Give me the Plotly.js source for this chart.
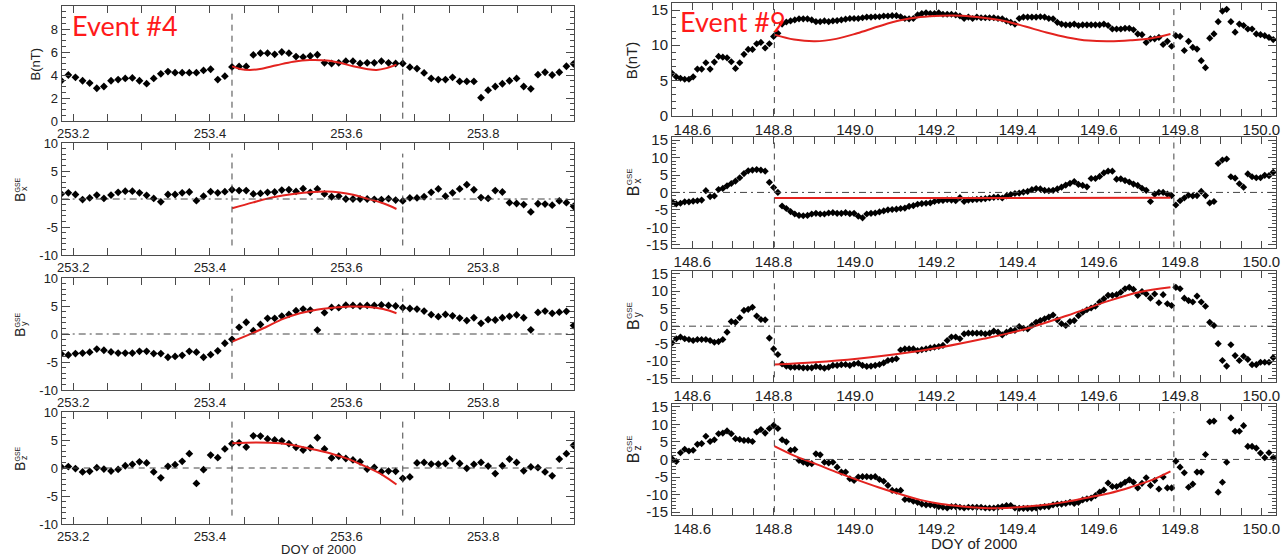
<!DOCTYPE html>
<html><head><meta charset="utf-8">
<script src="https://cdn.plot.ly/plotly-3.0.1.min.js"></script>
<style>html,body{margin:0;padding:0;background:#fff;}#chart{width:1286px;height:557px;}</style>
</head><body><div id="chart"></div>
<script>
// ---------------- DATA ----------------
// Event #4 (DOY 253 of 2000), 15-min samples
const leftStart = 253.1823;
const cadence = 1 / 96;
const leftB = [3.5, 4.0, 3.8, 3.5, 3.3, 2.85, 3.0, 3.5, 3.6, 3.7, 3.75, 3.5, 3.25, 3.7, 4.1, 4.3, 4.2, 4.2, 4.2, 4.2, 4.4, 4.5, 3.6, 3.9, 4.7, 4.75, 4.75, 5.75, 5.9, 5.9, 5.8, 6.0, 5.9, 5.6,
  5.56, 5.65, 5.76, 5.06, 5.0, 5.06, 5.2, 5.2, 5.0, 5.06, 5.06, 5.2, 5.06, 5.0, 5.0, 4.68, 4.56, 4.18, 3.7, 3.6, 3.6, 3.8, 3.44, 3.44, 3.44, 2.03, 2.68, 3.0, 3.24, 3.5, 3.7, 3.0, 2.8, 4.03, 4.24, 4.0, 4.24, 4.76, 4.97];
const leftBx = [0.9, 1.1, 0.8, -0.1, 0.2, 0.7, 0.1, 0.7, 1.2, 1.4, 1.4, 1.1, 0.65, 0.1, -0.5, 0.8, 0.8, 1.1, 1.25, -0.3, 0.5, 1.3, 1.1, 1.3, 1.65, 1.5, 1.5, 0.9, 1.0, 1.2, 1.25, 1.6, 1.65, 1.35,
  1.85, 1.2, 1.8, 0.9, 0.4, 0.5, 0.0, 0.0, 0.0, 0.0, -0.05, -0.1, 0.05, -0.2, -0.35, 0.2, 0.2, 0.4, 1.2, 1.8, 0.5, 1.1, 1.8, 2.55, 1.65, 0.25, 0.1, 1.5, 1.25, -0.65, -0.8, -1.0, -2.3, -0.85, -0.9, -1.1, -0.35, -0.65, -1.3];
const leftBy = [-3.55, -3.75, -3.5, -3.4, -3.25, -2.7, -2.9, -3.2, -3.4, -3.4, -3.4, -3.1, -3.1, -3.5, -3.5, -4.15, -4.0, -3.8, -3.1, -3.25, -4.15, -3.7, -3.0, -1.65, -0.95, 1.2, 2.1, 0.6, 1.7, 2.8, 2.8, 3.2, 3.5, 4.15,
  4.45, 4.27, 0.7, 3.8, 4.75, 4.7, 5.15, 5.1, 5.0, 5.1, 5.1, 5.2, 5.1, 5.0, 4.7, 4.55, 4.45, 4.1, 3.45, 3.1, 3.5, 3.25, 2.85, 2.4, 2.9, 1.9, 2.55, 2.5, 2.9, 3.15, 3.4, 2.9, 0.75, 3.85, 4.1, 3.7, 3.9, 4.05, 1.5];
const leftBz = [0.2, 0.25, -0.1, -0.7, -0.6, 0.05, -0.2, -0.55, -0.25, 0.4, 0.65, 1.1, 0.9, -0.7, -1.75, 0.3, 0.6, 1.2, 2.55, -2.75, -0.3, 2.3, 1.85, 3.4, 4.35, 4.5, 3.75, 5.75, 5.7, 5.2, 5.0, 4.85, 4.35, 3.7,
  3.2, 3.6, 5.4, 3.4, 1.8, 2.1, 1.7, 1.45, 1.1, -0.2, 0.1, -0.65, -0.55, -0.6, -1.85, -1.6, 0.9, 1.0, 0.7, 0.7, 0.8, 1.7, 0.8, -0.05, 0.65, 1.0, 0.35, -1.0, 0.4, 1.6, 1.0, -0.5, 0.2, 0.05, -0.7, -1.4, 1.6, 2.55, 4.05];

// Event #4 flux-rope fit curves
const fitLeftBT = [253.4326, 253.4439, 253.4585, 253.4732, 253.4976, 253.5219, 253.5463, 253.5707, 253.5902, 253.6097, 253.6292, 253.6439, 253.6585, 253.6731];
const fitLeftB = [4.75, 4.53, 4.44, 4.53, 4.85, 5.15, 5.3, 5.26, 5.06, 4.76, 4.53, 4.44, 4.6, 4.9];
const fitLeftBxT = [253.4326, 253.4634, 253.4926, 253.5219, 253.5512, 253.5707, 253.5902, 253.6097, 253.6292, 253.6536, 253.6731];
const fitLeftBx = [-1.66, -0.6, 0.3, 0.9, 1.25, 1.32, 1.15, 0.75, 0.1, -0.77, -1.78];
const fitLeftByT = [253.4326, 253.4634, 253.4830, 253.5073, 253.5317, 253.5561, 253.5804, 253.6048, 253.6292, 253.6536, 253.6731];
const fitLeftBy = [-1.35, 0.2, 1.3, 2.7, 3.7, 4.35, 4.7, 4.9, 4.85, 4.45, 3.7];
const fitLeftBzT = [253.4326, 253.4683, 253.5024, 253.5317, 253.5561, 253.5804, 253.6048, 253.6292, 253.6536, 253.6731];
const fitLeftBz = [4.4, 4.55, 4.4, 3.85, 3.2, 2.45, 1.5, 0.2, -1.3, -2.95];
const leftBoundaries = [253.4323, 253.6823];

// Event #9 (DOY 148-150 of 2000), 15-min samples
const rightStart = 148.55;
const rightB = [6.0, 5.5, 5.3, 5.15, 5.15, 5.5, 6.6, 6.6, 7.5, 6.6,
  7.6, 8.4, 8.3, 8.2, 7.65, 6.7, 7.5, 8.7, 9.4, 9.4,
  10.2, 10.4, 9.6, 10.2, 11.25, 11.7, 13.0, 13.3, 13.45, 13.6,
  13.75, 13.75, 13.75, 13.6, 13.35, 13.35, 13.45, 13.35, 13.45, 13.5,
  13.6, 13.7, 13.8, 13.8, 13.8, 13.9, 14.0, 14.0, 14.05, 14.05,
  14.15, 14.15, 14.2, 14.2, 14.05, 13.8, 13.75, 13.8, 14.3, 14.5,
  14.6, 14.5, 14.5, 14.6, 14.4, 14.4, 14.4, 14.3, 14.15, 13.8,
  14.0, 13.8, 14.0, 13.9, 13.9, 13.9, 13.9, 13.8, 13.75, 13.45,
  13.25, 13.0, 13.8, 14.0, 14.0, 14.0, 14.0, 14.05, 14.0, 13.8,
  13.75, 13.25, 13.0, 12.9, 12.9, 13.0, 12.8, 12.9, 12.9, 12.9,
  12.9, 12.9, 13.0, 12.8, 12.3, 12.3, 12.3, 12.4, 12.4, 12.2,
  11.6, 11.5, 10.4, 10.9, 10.9, 11.1, 10.1, 10.55, 9.85, 11.35,
  11.25, 9.25, 10.55, 9.7, 9.45, 7.8, 6.8, 11.0, 11.6, 13.35,
  14.85, 15.1, 13.35, 11.85, 13.0, 12.8, 12.3, 12.3, 11.6, 11.5, 11.35, 11.1, 10.8];
const rightBx = [-2.7, -3.3, -3.1, -2.7, -2.7, -2.5, -2.4, -2.2, 0.5, -1.2,
  -1.0, 0.85, 1.15, 1.9, 2.55, 3.25, 4.2, 5.4, 6.2, 6.4,
  6.55, 6.4, 6.1, 2.9, 1.4, 0.0, -3.9, -4.6, -5.5, -6.2,
  -6.6, -6.7, -6.6, -6.2, -6.0, -6.2, -6.2, -5.9, -5.8, -6.0,
  -6.0, -5.8, -6.1, -6.0, -6.8, -7.3, -6.2, -6.0, -5.9, -5.6,
  -5.3, -5.0, -4.9, -4.8, -4.6, -4.5, -4.0, -3.8, -3.4, -3.2,
  -3.1, -3.0, -2.6, -2.4, -2.3, -2.1, -2.2, -2.4, -1.5, -2.6,
  -2.2, -2.1, -2.0, -1.9, -1.8, -1.6, -1.4, -1.3, -1.6, -1.0,
  -0.6, -0.3, -0.2, 0.1, 0.3, 0.8, 1.1, 1.0, 0.6, 0.5,
  0.6, 1.0, 1.5, 2.1, 2.6, 3.1, 2.3, 2.0, 1.6, 4.0,
  4.0, 4.6, 5.6, 6.1, 6.1, 3.8, 3.9, 3.4, 3.0, 2.4,
  2.0, 1.2, 0.6, -2.6, -0.5, 0.0, 0.0, -0.5, -0.9, -3.6,
  -2.4, -1.6, -0.8, -1.0, -0.9, 0.3, -0.9, -3.0, -2.6, 8.3,
  9.3, 9.6, 4.5, 4.1, 2.5, 1.5, 5.3, 4.5, 4.2, 4.2, 4.9, 4.8, 5.8];
const rightBy = [-4.8, -3.6, -3.1, -3.6, -3.8, -4.1, -3.8, -3.8, -3.8, -4.1,
  -4.6, -4.4, -3.8, -1.7, 1.3, 1.1, 2.4, 4.5, 4.8, 5.4,
  2.9, 1.9, 1.8, -3.4, -6.5, -8.1, -10.8, -11.4, -11.7, -11.7,
  -11.7, -11.9, -11.9, -11.9, -11.5, -11.7, -12.0, -11.7, -11.2, -11.2,
  -11.0, -10.95, -11.2, -10.8, -10.6, -11.2, -11.5, -11.4, -11.2, -10.95,
  -10.5, -9.8, -9.6, -9.3, -6.8, -6.5, -6.5, -6.5, -7.0, -6.7,
  -6.5, -6.2, -6.0, -5.8, -5.5, -4.1, -3.1, -3.1, -3.6, -2.2,
  -2.0, -2.0, -2.0, -2.0, -2.2, -2.0, -1.4, -1.7, -2.5, -1.7,
  -1.2, -1.2, -0.1, -0.6, -0.8, 0.2, 1.1, 1.6, 2.1, 2.6,
  3.2, 1.8, 0.7, 0.2, 1.3, 1.6, 3.0, 4.0, 4.7, 5.2,
  5.7, 6.9, 7.8, 8.8, 8.8, 9.0, 9.7, 10.7, 11.1, 10.5,
  8.8, 9.9, 9.2, 8.0, 9.2, 6.7, 9.0, 6.4, 5.9, 11.1,
  10.7, 8.0, 7.3, 6.9, 8.6, 6.9, 5.7, 1.1, 0.2, -5.0,
  -9.8, -11.4, -5.3, -8.4, -9.8, -8.6, -9.5, -11.0, -11.0, -10.3, -10.3, -10.3, -9.0];
const rightBz = [0.2, -0.6, 1.9, 2.9, 2.4, 2.6, 4.3, 4.5, 6.6, 5.1,
  5.6, 7.3, 7.5, 8.1, 7.3, 5.9, 5.7, 5.4, 5.4, 5.1,
  7.8, 8.5, 7.5, 8.8, 9.7, 8.8, 5.6, 5.0, 2.6, 2.8,
  -0.3, -0.8, -1.2, -1.2, 1.6, 1.3, -0.8, -1.0, -0.8, -2.2,
  -3.6, -3.6, -5.5, -6.0, -5.0, -4.9, -4.9, -5.0, -4.9, -5.7,
  -6.2, -7.4, -8.8, -9.0, -8.8, -11.4, -11.4, -11.9, -12.2, -12.7,
  -12.9, -12.9, -13.1, -13.4, -13.6, -13.8, -13.4, -13.4, -13.6, -13.8,
  -13.6, -13.6, -13.6, -13.6, -13.8, -13.8, -13.8, -13.6, -13.4, -13.1,
  -13.1, -13.8, -13.9, -13.9, -13.9, -13.9, -13.8, -13.6, -13.4, -13.4,
  -12.9, -12.7, -12.7, -12.5, -12.2, -12.5, -12.2, -11.5, -11.2, -11.0,
  -10.3, -9.3, -8.7, -6.7, -7.7, -7.7, -7.2, -6.5, -5.8, -6.5,
  -8.1, -6.8, -5.2, -7.4, -6.0, -8.4, -5.0, -8.1, -8.1, -0.5,
  -2.2, -3.8, -7.9, -7.0, -3.6, -3.6, 1.4, 10.7, 10.9, -9.3,
  -6.5, -0.8, 11.8, 8.0, 8.0, 9.6, 3.7, 3.7, 3.2, 1.8, 0.5, 1.9, 0.5];

// Event #9 fit curves
const fitRightT = [148.8018, 148.8504, 148.9021, 148.9539, 149.0056, 149.0573, 149.1091, 149.1608, 149.2125, 149.2643, 149.3160, 149.3677, 149.4195, 149.4712, 149.5229, 149.5747, 149.6264, 149.6782, 149.7299, 149.7764];
const fitRightB = [11.5, 10.8, 10.55, 10.9, 11.7, 12.65, 13.5, 14.0, 14.2, 14.2, 13.9, 13.45, 12.65, 11.8, 11.1, 10.65, 10.55, 10.7, 11.0, 11.6];
const fitRightBxT = [148.8018, 149.29, 149.7764];
const fitRightBx = [-1.6, -1.6, -1.55];
const fitRightByT = [148.8018, 148.9021, 149.0056, 149.1091, 149.2125, 149.3160, 149.4195, 149.5229, 149.6264, 149.6989, 149.7764];
const fitRightBy = [-10.95, -10.3, -9.3, -7.9, -6.0, -3.6, -0.8, 3.05, 7.3, 9.7, 11.1];
const fitRightBz = [3.8, 1.1, -1.2, -3.6, -5.8, -7.9, -9.8, -11.5, -12.7, -13.4, -13.8, -13.8, -13.4, -12.9, -12.0, -10.8, -9.6, -7.9, -5.9, -3.4];
const rightBoundaries = [148.8018, 149.7847];

const leftTicks = [253.2, 253.4, 253.6, 253.8];
const rightTicks = [148.6, 148.8, 149.0, 149.2, 149.4, 149.6, 149.8, 150.0];

// time grids from the 15-minute sampling cadence
const leftDOY = leftB.map((_, i) => leftStart + i * cadence);
const rightDOY = rightB.map((_, i) => rightStart + i * cadence);

// ---------------- LAYOUT ----------------
const W = 1286, H = 557;
const fx = v => v / W;
const fy = v => 1 - v / H;
const FONT = 'Liberation Sans, Arial, Helvetica, sans-serif';
const AX = '#4a4a4a';
const RED = '#e3231f';

const panels = [
  {side:'L', t:leftDOY, v:leftB, ft:fitLeftBT, fv:fitLeftB, top:6, bot:121, yr:[0,10], tv:[0,2,4,6,8,10], tt:['0','2','4','6','8',''], ym:0.5, zero:null, vl:[0.2,9.6], lab:'B(nT)'},
  {side:'L', t:leftDOY, v:leftBx, ft:fitLeftBxT, fv:fitLeftBx, top:143, bot:255, yr:[-10,10], tv:[-10,-5,0,5,10], ym:1, zero:'dashdot', vl:[-8.3,8.1], lab:'x'},
  {side:'L', t:leftDOY, v:leftBy, ft:fitLeftByT, fv:fitLeftBy, top:278, bot:390, yr:[-10,10], tv:[-10,-5,0,5,10], ym:1, zero:'dashdot', vl:[-8.0,8.1], lab:'y'},
  {side:'L', t:leftDOY, v:leftBz, ft:fitLeftBzT, fv:fitLeftBz, top:412, bot:524, yr:[-10,10], tv:[-10,-5,0,5,10], ym:1, zero:'dash', vl:[-8.5,8.3], lab:'z'},
  {side:'R', t:rightDOY, v:rightB, ft:fitRightT, fv:fitRightB, top:3, bot:115.5, yr:[0,16], tv:[0,5,10,15], ym:1, zero:null, vl:[0.2,15.8], lab:'B(nT)'},
  {side:'R', t:rightDOY, v:rightBx, ft:fitRightBxT, fv:fitRightBx, top:137, bot:247.5, yr:[-15.8,15.9], tv:[-15,-10,-5,0,5,10,15], ym:1, zero:'dashdot', vl:[-15.8,15.9], lab:'x', linear:true},
  {side:'R', t:rightDOY, v:rightBy, ft:fitRightByT, fv:fitRightBy, top:270.5, bot:381.5, yr:[-15.8,15.9], tv:[-15,-10,-5,0,5,10,15], ym:1, zero:'dashdot', vl:[-14.6,13.5], lab:'y'},
  {side:'R', t:rightDOY, v:rightBz, ft:fitRightT, fv:fitRightBz, top:403.5, bot:515, yr:[-15.8,15.9], tv:[-15,-10,-5,0,5,10,15], ym:1, zero:'dash', vl:[-15.0,13.5], lab:'z'}
];

const sideCfg = {
  L: {x0:61.7, x1:574, range:[253.183, 253.933], tick0:253.2, ticks:leftTicks, font:13, bounds:leftBoundaries, labX:20, msize:6},
  R: {x0:672, x1:1276, range:[148.55, 150.036], tick0:148.6, ticks:rightTicks, font:15, bounds:rightBoundaries, labX:633, msize:5.5}
};

const data = [];
const layout = {
  width: W, height: H,
  margin: {l:0, r:0, t:0, b:0},
  paper_bgcolor: '#fff', plot_bgcolor: '#fff',
  showlegend: false,
  shapes: [], annotations: []
};

const dashDot = '7px,4px,2px,4px';
const dashed = '6px,5px';

panels.forEach((p, k) => {
  const n = k + 1;
  const sfx = n === 1 ? '' : String(n);
  const s = sideCfg[p.side];
  const xa = 'x' + sfx, ya = 'y' + sfx;

  data.push({type:'scatter', mode:'markers', x:p.t, y:p.v, xaxis:xa, yaxis:ya,
    marker:{symbol:'diamond', size:s.msize, color:'#000', line:{width:0}}, hoverinfo:'skip'});
  data.push({type:'scatter', mode:'lines', x:p.ft, y:p.fv, xaxis:xa, yaxis:ya,
    line:{color:RED, width:2, shape: p.linear ? 'linear' : 'spline', smoothing:1}, hoverinfo:'skip'});

  layout['xaxis' + sfx] = {
    domain:[fx(s.x0), fx(s.x1)], range:s.range, anchor:ya,
    showline:true, linecolor:AX, linewidth:1, mirror:'ticks',
    ticks:'inside', ticklen:7, tickwidth:1, tickcolor:AX,
    tickmode:'array', tickvals:s.ticks, ticktext:s.ticks.map(v => v.toFixed(1)),
    minor:{tickmode:'linear', tick0:s.tick0, dtick:0.05, ticks:'inside', ticklen:7, tickcolor:AX, tickwidth:1, showgrid:false},
    showgrid:false, zeroline:false,
    tickfont:{family:FONT, size:s.font, color:'#222'}
  };
  layout['yaxis' + sfx] = {
    domain:[fy(p.bot), fy(p.top)], range:p.yr, anchor:xa,
    showline:true, linecolor:AX, linewidth:1, mirror:'ticks',
    ticks:'inside', ticklen:8, tickwidth:1, tickcolor:AX,
    tickmode:'array', tickvals:p.tv, ticktext:p.tt || p.tv.map(String),
    minor:{tickmode:'linear', tick0:0, dtick:p.ym, ticks:'inside', ticklen:4, tickcolor:AX, tickwidth:1, showgrid:false},
    showgrid:false, zeroline:false,
    tickfont:{family:FONT, size:s.font, color:'#222'}
  };

  if (p.zero) {
    layout.shapes.push({type:'line', xref:xa + ' domain', yref:ya, x0:0, x1:1, y0:0, y1:0,
      line:{color:'#444', width:1, dash: p.zero === 'dash' ? dashed : dashDot}});
  }
  s.bounds.forEach(b => {
    layout.shapes.push({type:'line', xref:xa, yref:ya, x0:b, x1:b, y0:p.vl[0], y1:p.vl[1],
      line:{color:'#444', width:1, dash:dashed}});
  });

  // y-axis titles
  const cy = (p.top + p.bot) / 2;
  const fs = s.font;
  if (p.lab === 'B(nT)') {
    const lx = p.side === 'L' ? 35 : 631;
    layout.annotations.push({xref:'paper', yref:'paper', x:fx(lx), y:fy(cy + 1), text:'B(nT)', textangle:-90,
      showarrow:false, xanchor:'center', yanchor:'middle', font:{family:FONT, size:fs, color:'#222'}});
  } else {
    const bx = s.labX, by = cy - 1;
    const sc = fs / 13;
    layout.annotations.push({xref:'paper', yref:'paper', x:fx(bx), y:fy(by), text:'B', textangle:-90,
      showarrow:false, xanchor:'center', yanchor:'middle', font:{family:FONT, size:fs + 1, color:'#222'}});
    layout.annotations.push({xref:'paper', yref:'paper', x:fx(bx - 3.5 * sc), y:fy(by - 13 * sc), text:'GSE', textangle:-90,
      showarrow:false, xanchor:'center', yanchor:'middle', font:{family:FONT, size:Math.round(7 * sc), color:'#222'}});
    layout.annotations.push({xref:'paper', yref:'paper', x:fx(bx + 4 * sc), y:fy(by - 9 * sc), text:p.lab, textangle:-90,
      showarrow:false, xanchor:'center', yanchor:'middle', font:{family:FONT, size:Math.round(9 * sc), color:'#222'}});
  }
});

// axis titles and event labels
layout.annotations.push({xref:'paper', yref:'paper', x:fx(318), y:fy(549.5), text:'DOY of 2000', showarrow:false,
  xanchor:'center', yanchor:'middle', font:{family:FONT, size:13, color:'#222'}});
layout.annotations.push({xref:'paper', yref:'paper', x:fx(974), y:fy(543), text:'DOY of 2000', showarrow:false,
  xanchor:'center', yanchor:'middle', font:{family:FONT, size:15, color:'#222'}});
layout.annotations.push({xref:'paper', yref:'paper', x:fx(70), y:fy(25), text:'Event #4', showarrow:false,
  xanchor:'left', yanchor:'middle', font:{family:'Lato, Liberation Sans, sans-serif', size:27, color:'#ff1a1a'}});
layout.annotations.push({xref:'paper', yref:'paper', x:fx(678), y:fy(21), text:'Event #9', showarrow:false,
  xanchor:'left', yanchor:'middle', font:{family:'Lato, Liberation Sans, sans-serif', size:27, color:'#ff1a1a'}});

Plotly.newPlot('chart', data, layout, {staticPlot:true, displayModeBar:false});
</script></body></html>
